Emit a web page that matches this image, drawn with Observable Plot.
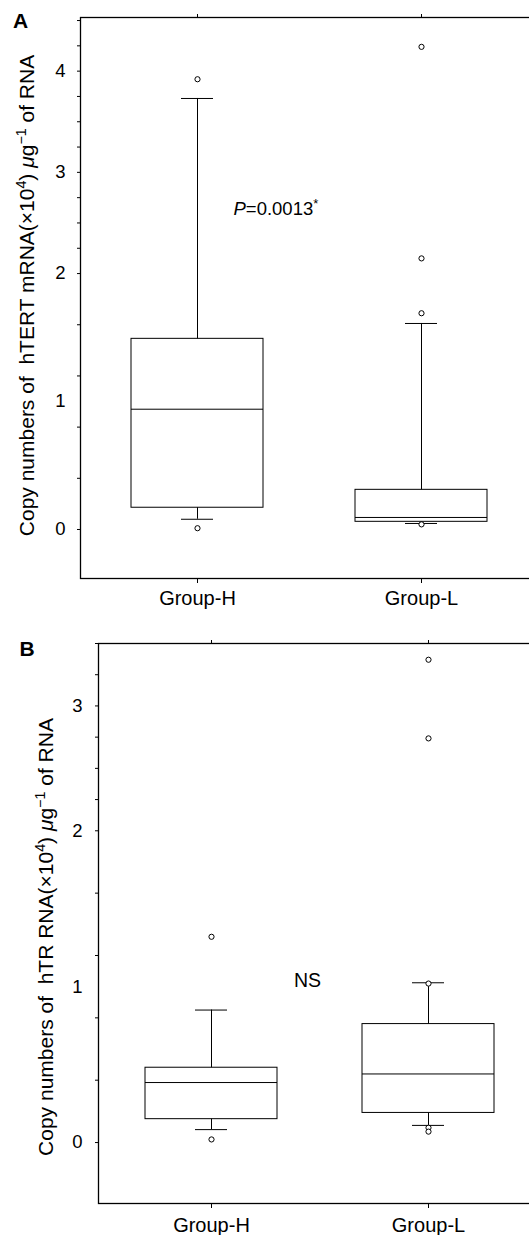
<!DOCTYPE html>
<html><head><meta charset="utf-8">
<script src="https://cdn.jsdelivr.net/npm/d3@7"></script>
<script src="https://cdn.jsdelivr.net/npm/@observablehq/plot@0.6"></script>
<style>
html,body{margin:0;padding:0;background:#fff;overflow:hidden;}
#wrap{width:529px;height:1235px;overflow:hidden;position:relative;background:#fff;}
#wrap svg{display:block;max-width:none !important;}
</style></head><body><div id="wrap"></div>
<script>
// ---------- data ----------
const groups = ["Group-H", "Group-L"];
const yTickLabels = [0, 1, 2, 3, 4];
const yTickLabelsB = [0, 1, 2, 3];
const minorTicksA = [0, 0.4, 0.8, 1.2, 1.6, 2, 2.25, 2.5, 2.75, 3, 3.25, 3.5, 3.75, 4, 4.25, 4.5];
const minorTicksB = [0, 0.4, 0.8, 1.2, 1.6, 2, 2.25, 2.5, 2.75, 3, 3.25, 3.5];

// Panel A: hTERT mRNA
const aLow  = [0.08, 0.047];
const aQ1   = [0.17, 0.06];
const aMed  = [0.94, 0.094];
const aQ3   = [1.49, 0.31];
const aHigh = [3.73, 1.61];
const aOutGroup = ["Group-H", "Group-H", "Group-L", "Group-L", "Group-L", "Group-L"];
const aOutValue = [3.92, 0.01, 4.24, 2.15, 1.69, 0.04];

// Panel B: hTR RNA
const bLow  = [0.083, 0.11];
const bQ1   = [0.15, 0.19];
const bMed  = [0.385, 0.44];
const bQ3   = [0.48, 0.76];
const bHigh = [0.85, 1.025];
const bOutGroup = ["Group-H", "Group-H", "Group-L", "Group-L", "Group-L", "Group-L", "Group-L"];
const bOutValue = [1.32, 0.02, 3.37, 2.74, 1.02, 0.095, 0.07];

const titleA = "Copy numbers of  hTERT mRNA(×10^4) μg^−1 of RNA";
const titleB = "Copy numbers of  hTR RNA(×10^4) μg^−1 of RNA";
const pText = "P=0.0013*";
const nsText = "NS";

// ---------- helpers ----------
const FONT = "'Liberation Sans', Arial, Helvetica, sans-serif";
function rows(low, q1, med, q3, high) {
  return groups.map((g, i) => ({group: g, low: low[i], q1: q1[i], med: med[i], q3: q3[i], high: high[i]}));
}
function outs(gs, vs) { return gs.map((g, i) => ({group: g, value: vs[i]})); }
// the original axis is compressed above 2
function brokenAxis(k) { return v => (v <= 2 ? v : 2 + (v - 2) * k); }
function brokenAxisInv(k) { return v => (v <= 2 ? v : 2 + (v - 2) / k); }

function richTitle(svg, raw, size) {
  const parts = [];
  const re = /\^(\S+?)(?=\)|\s|$)/g;
  let last = 0, m;
  while ((m = re.exec(raw))) {
    parts.push({t: raw.slice(last, m.index)});
    parts.push({t: m[1], sup: true});
    last = m.index + m[0].length;
  }
  parts.push({t: raw.slice(last)});
  for (const t of svg.querySelectorAll("text")) {
    if (t.textContent === raw) {
      t.textContent = "";
      let shift = 0;
      for (const p of parts) {
        const segs = p.sup ? [{t: p.t, sup: true}] : p.t.split(/(μ)/).filter(s => s).map(s => ({t: s, it: s === "μ"}));
        for (const s of segs) {
          const ts = document.createElementNS("http://www.w3.org/2000/svg", "tspan");
          ts.textContent = s.t;
          const target = s.sup ? -0.4 * size : 0;
          if (target !== shift) { ts.setAttribute("dy", target - shift); shift = target; }
          if (s.sup) ts.setAttribute("font-size", size * 0.68);
          if (s.it) ts.setAttribute("font-style", "italic");
          t.appendChild(ts);
        }
      }
    }
  }
}
function richP(svg, size) {
  for (const t of svg.querySelectorAll("text")) {
    if (t.textContent === pText) {
      t.textContent = "";
      const a = document.createElementNS("http://www.w3.org/2000/svg", "tspan");
      a.textContent = "P"; a.setAttribute("font-style", "italic");
      const b = document.createElementNS("http://www.w3.org/2000/svg", "tspan");
      b.textContent = "=0.0013";
      const c = document.createElementNS("http://www.w3.org/2000/svg", "tspan");
      c.textContent = "*"; c.setAttribute("dy", -0.35 * size); c.setAttribute("font-size", size * 0.7);
      t.append(a, b, c);
    }
  }
}

function panel(cfg) {
  const data = rows(...cfg.stats);
  const outliers = outs(...cfg.outliers);
  const f = brokenAxis(cfg.k);
  const finv = brokenAxisInv(cfg.k);
  const svg = Plot.plot({
    width: 545, height: cfg.height,
    marginLeft: cfg.left, marginTop: cfg.top, marginBottom: cfg.bottom, marginRight: 0,
    style: {fontFamily: FONT, background: "white", color: "black"},
    x: {type: "band", domain: groups, range: cfg.xRange, paddingInner: cfg.padInner, paddingOuter: 0, axis: null},
    y: {type: "linear", transform: f, domain: [f(cfg.yMin), f(cfg.yMax)], axis: null},
    marks: [
      Plot.frame({stroke: "black", strokeWidth: 1.3}),
      Plot.axisX({anchor: "top", tickSize: 4, tickFormat: () => "", label: null}),
      Plot.axisX({anchor: "bottom", tickSize: 5, tickPadding: cfg.xPad, fontSize: 20, label: null}),
      Plot.axisY({anchor: "left", ticks: cfg.minor.map(f), tickSize: 3, tickFormat: () => "", label: null}),
      Plot.axisY({anchor: "left", ticks: cfg.labels.map(f), tickSize: 0, tickPadding: cfg.yPad, fontSize: 18.5, label: null, tickFormat: d => String(Math.round(finv(d)))}),
      Plot.ruleX(data, {x: "group", y1: "low", y2: "high", stroke: "black", strokeWidth: 1}),
      Plot.tickY(data, {x: "group", y: "low", insetLeft: 50, insetRight: 50, stroke: "black"}),
      Plot.tickY(data, {x: "group", y: "high", insetLeft: 50, insetRight: 50, stroke: "black"}),
      Plot.barY(data, {x: "group", y1: "q1", y2: "q3", fill: "white", stroke: "black", strokeWidth: 1}),
      Plot.tickY(data, {x: "group", y: "med", stroke: "black"}),
      Plot.dot(outliers, {x: "group", y: "value", r: 2.6, stroke: "black", fill: "white", strokeWidth: 1}),
      Plot.text([cfg.note], {x: d => d.g, y: d => d.v, text: d => d.label, textAnchor: cfg.noteAnchor, dx: cfg.noteDx, fontSize: cfg.noteSize, fill: "black"}),
      Plot.text([cfg.title], {frameAnchor: "left", textAnchor: "middle", lineAnchor: "middle", rotate: -90, dx: cfg.titleDx, dy: cfg.titleDy, fontSize: cfg.titleSize, fill: "black"}),
      Plot.text([cfg.letter], {frameAnchor: "top-left", textAnchor: "middle", lineAnchor: "middle", dx: cfg.letterDx, dy: cfg.letterDy, fontSize: 21, fontWeight: "bold", fill: "black"})
    ]
  });
  richTitle(svg, cfg.title, cfg.titleSize);
  richP(svg, cfg.noteSize);
  return svg;
}

const wrap = document.getElementById("wrap");
wrap.appendChild(panel({
  height: 615, left: 80, top: 17, bottom: 37,
  xRange: [130, 487], padInner: 0.412,
  k: 0.791, yMin: -0.383, yMax: 4.53,
  minor: minorTicksA, labels: yTickLabels, yPad: 15, xPad: 7,
  stats: [aLow, aQ1, aMed, aQ3, aHigh], outliers: [aOutGroup, aOutValue],
  note: {g: "Group-H", v: 2.64, label: pText}, noteAnchor: "start", noteDx: 36, noteSize: 18.5,
  title: titleA, titleSize: 21, titleDx: -53, titleDy: -2.5,
  letter: "A", letterDx: -60, letterDy: 3.5
}));
wrap.appendChild(panel({
  height: 620, left: 98, top: 28, bottom: 32,
  xRange: [145, 494], padInner: 0.392,
  k: 0.801, yMin: -0.391, yMax: 3.5,
  minor: minorTicksB, labels: yTickLabelsB, yPad: 16, xPad: 9.5,
  stats: [bLow, bQ1, bMed, bQ3, bHigh], outliers: [bOutGroup, bOutValue],
  note: {g: "Group-H", v: 1.04, label: nsText}, noteAnchor: "middle", noteDx: 96, noteSize: 19.5,
  title: titleB, titleSize: 21, titleDx: -52, titleDy: 13.5,
  letter: "B", letterDx: -71.5, letterDy: 6
}));
</script></body></html>
